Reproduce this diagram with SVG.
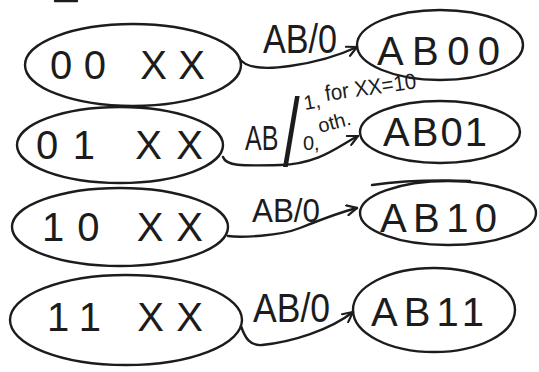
<svg xmlns="http://www.w3.org/2000/svg" width="539" height="372" viewBox="0 0 539 372">
<style>
.sh{fill:none;stroke:#1c1c1c;stroke-width:2.4;stroke-linecap:round;stroke-linejoin:round}
.t{font-family:"Liberation Sans","DejaVu Sans",sans-serif;fill:#1c1c1c}
.nt{font-size:40px}
.lb{font-size:40px}
.sm{font-size:20px}
</style>
<defs>
<marker id="ah" viewBox="0 0 12 12" refX="11" refY="6" markerWidth="12" markerHeight="12" markerUnits="userSpaceOnUse" orient="auto">
<path d="M1,1 L11,6 L1,11" fill="none" stroke="#1c1c1c" stroke-width="2.2" stroke-linecap="round"/>
</marker>
</defs>
<rect width="539" height="372" fill="#ffffff"/>
<path class="sh" d="M55,1 L77,1"/>
<g id="n00xx"><ellipse class="sh" cx="133" cy="65" rx="108" ry="41"/><text class="t nt" x="50" y="79" textLength="155" lengthAdjust="spacing">00 XX</text></g>
<g id="n01xx"><ellipse class="sh" cx="120" cy="145" rx="103" ry="38"/><text class="t nt" x="36" y="159" textLength="167" lengthAdjust="spacing">01 XX</text></g>
<g id="n10xx"><ellipse class="sh" cx="120" cy="227" rx="108" ry="39"/><text class="t nt" x="42" y="241" textLength="161" lengthAdjust="spacing">10 XX</text></g>
<g id="n11xx"><ellipse class="sh" cx="126" cy="320" rx="116" ry="45"/><text class="t nt" x="47" y="331" textLength="156" lengthAdjust="spacing">11 XX</text></g>
<g id="nab00"><ellipse class="sh" cx="440" cy="45" rx="83" ry="35"/><text class="t nt" x="377" y="65" textLength="123" lengthAdjust="spacing">AB00</text></g>
<g id="nab01"><ellipse class="sh" cx="440" cy="132" rx="80" ry="31"/><text class="t nt" x="383" y="146" textLength="104" lengthAdjust="spacing">AB01</text></g>
<g id="nab10"><ellipse class="sh" cx="448" cy="213" rx="88" ry="32"/><path class="sh" d="M372,185 C400,181 440,180 470,181"/><text class="t nt" x="380" y="232" textLength="117" lengthAdjust="spacing">AB10</text></g>
<g id="nab11"><ellipse class="sh" cx="434" cy="310" rx="81" ry="42"/><text class="t nt" x="371" y="326" textLength="113" lengthAdjust="spacing">AB11</text></g>
<g id="connectors">
<path class="sh" marker-end="url(#ah)" d="M239,58 C245,68 262,70 290,66 S340,55 357,47"/>
<path class="sh" marker-end="url(#ah)" d="M223,157 C226,166 240,166 280,165 S340,145 358,136"/>
<path class="sh" marker-end="url(#ah)" d="M228,236 C240,238 280,236 300,228 S340,212 357,208"/>
<path class="sh" marker-end="url(#ah)" d="M241,326 C245,338 250,346 262,345 C292,342 330,330 353,312"/>
<text class="t lb" x="263" y="53" textLength="74" lengthAdjust="spacingAndGlyphs">AB/0</text>
<text class="t" style="font-size:25px" transform="translate(245 150) scale(1 1.4)" x="0" y="0">AB</text>
<text class="t" style="font-size:30px" transform="translate(283 166) scale(2 3.2)" x="0" y="0">/</text>
<text class="t sm" x="303" y="150">0,</text>
<text class="t sm" x="320" y="133" transform="rotate(-15 320 133)">oth.</text>
<text class="t sm" x="305" y="110" transform="rotate(-10 305 110)">1,</text>
<text class="t" style="font-size:22px" x="326" y="101" textLength="92" lengthAdjust="spacingAndGlyphs" transform="rotate(-8 326 101)">for XX=10</text>
<text class="t" style="font-size:34px" x="252" y="222" textLength="68" lengthAdjust="spacingAndGlyphs">AB/0</text>
<text class="t lb" x="253" y="322" textLength="77" lengthAdjust="spacingAndGlyphs">AB/0</text>
</g>
</svg>
